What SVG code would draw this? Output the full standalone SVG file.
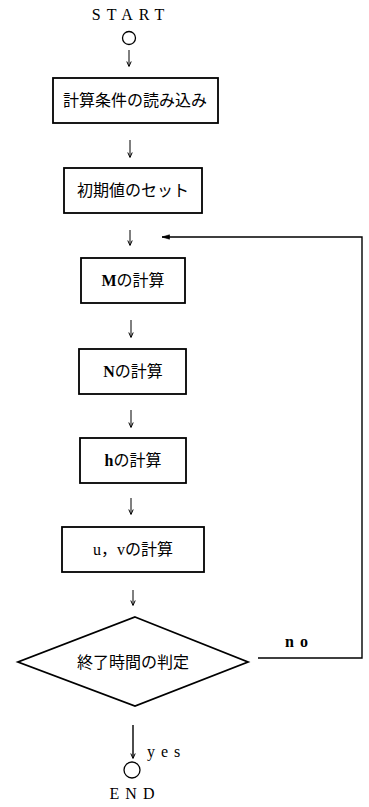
<svg xmlns="http://www.w3.org/2000/svg" width="369" height="807" viewBox="0 0 369 807">
<style>
.box{fill:#fff;stroke:#000;stroke-width:1.8}
.t{font-family:"Liberation Serif","Noto Sans CJK JP",serif;font-size:16px;fill:#000;text-anchor:middle;dominant-baseline:central}
.lbl{font-family:"Liberation Serif",serif;font-size:16px;fill:#000}
.ln{stroke:#000;stroke-width:1.4;fill:none}
.ar{stroke:#000;stroke-width:1;fill:none}
</style>
<defs>
<marker id="ah" markerWidth="6" markerHeight="6" refX="5" refY="3" orient="auto" markerUnits="userSpaceOnUse">
<path d="M0.5,0.8 L5.5,3 L0.5,5.2" fill="none" stroke="#000" stroke-width="1"/>
</marker>
<marker id="ahl" markerWidth="9" markerHeight="6" refX="8" refY="3" orient="auto" markerUnits="userSpaceOnUse">
<path d="M0.5,0.8 L8,3 L0.5,5.2 Z" fill="#000" stroke="#000" stroke-width="0.6"/>
</marker>
</defs>
<g id="start">
<text class="lbl" x="131" y="20" text-anchor="middle" letter-spacing="6">START</text>
<circle cx="129" cy="38" r="6.5" fill="#fff" stroke="#000" stroke-width="1.3"/>
</g>
<g id="n1"><rect class="box" x="53" y="78" width="165" height="45"/><text class="t" x="135" y="100">計算条件の読み込み</text></g>
<g id="n2"><rect class="box" x="64" y="168" width="138" height="45"/><text class="t" x="133" y="190">初期値のセット</text></g>
<g id="n3"><rect class="box" x="81" y="258" width="104" height="45"/><text class="t" x="133" y="280"><tspan font-weight="bold">M</tspan>の計算</text></g>
<g id="n4"><rect class="box" x="79" y="349" width="107" height="45"/><text class="t" x="133" y="371"><tspan font-weight="bold">N</tspan>の計算</text></g>
<g id="n5"><rect class="box" x="80" y="438" width="106" height="45"/><text class="t" x="133" y="460"><tspan font-weight="bold">h</tspan>の計算</text></g>
<g id="n6"><rect class="box" x="62" y="527" width="142" height="45"/><text class="t" x="133" y="549">u，vの計算</text></g>
<g id="n7"><polygon class="box" points="135,617 248,662 135,706 18,662"/><text class="t" x="133" y="662">終了時間の判定</text></g>
<g id="end">
<circle cx="132" cy="770" r="8" fill="#fff" stroke="#000" stroke-width="1.3"/>
<text class="lbl" x="135" y="799" text-anchor="middle" letter-spacing="6">END</text>
</g>
<g id="connectors">
<line class="ar" x1="129" y1="50" x2="129" y2="66" marker-end="url(#ah)"/>
<line class="ar" x1="130" y1="140" x2="130" y2="157" marker-end="url(#ah)"/>
<line class="ar" x1="130" y1="230" x2="130" y2="245" marker-end="url(#ah)"/>
<line class="ar" x1="131" y1="320" x2="131" y2="337" marker-end="url(#ah)"/>
<line class="ar" x1="131" y1="410" x2="131" y2="427" marker-end="url(#ah)"/>
<line class="ar" x1="131" y1="498" x2="131" y2="514" marker-end="url(#ah)"/>
<line class="ar" x1="133" y1="590" x2="133" y2="605" marker-end="url(#ah)"/>
<line class="ln" x1="133" y1="725" x2="133" y2="758" stroke-width="1.6" marker-end="url(#ah)"/>
<polyline class="ln" points="258,658 362,658 362,237 162,237" marker-end="url(#ahl)"/>
<text class="lbl" x="285" y="647" letter-spacing="6" font-weight="bold">no</text>
<text class="lbl" x="147" y="757" letter-spacing="6">yes</text>
</g>
</svg>
